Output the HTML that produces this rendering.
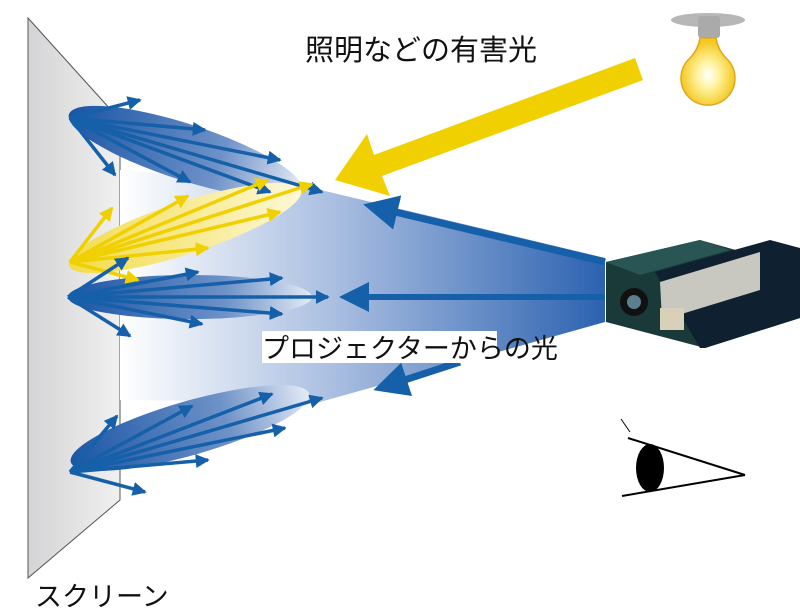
<!DOCTYPE html>
<html><head><meta charset="utf-8"><style>
html,body{margin:0;padding:0;background:#fff;width:800px;height:616px;overflow:hidden}
svg{display:block}
text{font-family:"Liberation Sans","Noto Sans CJK JP",sans-serif;fill:#111}
</style></head><body>
<svg width="800" height="616" viewBox="0 0 800 616" xmlns="http://www.w3.org/2000/svg">
<defs>
<linearGradient id="scr" x1="0" x2="1" y1="0" y2="0"><stop offset="0" stop-color="#d4d4d6"/><stop offset="1" stop-color="#f0f0f0"/></linearGradient>
<linearGradient id="beam" x1="120" x2="605" y1="0" y2="0" gradientUnits="userSpaceOnUse"><stop offset="0" stop-color="#fff"/><stop offset="0.45" stop-color="#a8bde0"/><stop offset="1" stop-color="#2c62b0"/></linearGradient>
<linearGradient id="ellB" x1="0" x2="1"><stop offset="0" stop-color="#1a55a5"/><stop offset="0.65" stop-color="#6f92c8"/><stop offset="1" stop-color="#e4ebf6"/></linearGradient>
<linearGradient id="ellY" x1="0" x2="1"><stop offset="0" stop-color="#f2dc4a"/><stop offset="1" stop-color="#fdf8d8"/></linearGradient>
<radialGradient id="bulb" cx="0.5" cy="0.55" r="0.5"><stop offset="0" stop-color="#fff"/><stop offset="0.4" stop-color="#fff3a0"/><stop offset="1" stop-color="#f3c820"/></radialGradient>
<marker id="ab" markerWidth="4" markerHeight="4" refX="3.5" refY="2" orient="auto" markerUnits="strokeWidth"><path d="M0,0 L4,2 L0,4z" fill="#1560a8"/></marker>
<marker id="ay" markerWidth="4" markerHeight="4" refX="3.5" refY="2" orient="auto" markerUnits="strokeWidth"><path d="M0,0 L4,2 L0,4z" fill="#f0d000"/></marker>
<marker id="abig" markerWidth="5" markerHeight="5" refX="4" refY="2.5" orient="auto" markerUnits="strokeWidth"><path d="M0,0 L5,2.5 L0,5z" fill="#1560a8"/></marker>
</defs>
<polygon points="28,18 120,120 120,500 28,578" fill="url(#scr)" stroke="#555" stroke-width="1"/>
<polygon points="120,170 300,185 605,258 605,322 320,402 120,400" fill="url(#beam)"/>
<line x1="605" y1="262" x2="370" y2="206" stroke="#1560a8" stroke-width="7" marker-end="url(#abig)"/>
<line x1="605" y1="297" x2="345" y2="297" stroke="#1560a8" stroke-width="6" marker-end="url(#abig)"/>
<line x1="460" y1="362" x2="380" y2="388" stroke="#1560a8" stroke-width="7" marker-end="url(#abig)"/>
<ellipse cx="185" cy="152" rx="122" ry="28" transform="rotate(18 185 152)" fill="url(#ellB)"/>
<ellipse cx="185" cy="228" rx="122" ry="26" transform="rotate(-18 185 228)" fill="url(#ellY)"/>
<ellipse cx="190" cy="297" rx="122" ry="22" fill="url(#ellB)"/>
<ellipse cx="190" cy="428" rx="124" ry="27" transform="rotate(-16 190 428)" fill="url(#ellB)"/>
<g stroke="#1560a8" stroke-width="3.5" fill="none">
<line x1="70" y1="118" x2="140" y2="100" marker-end="url(#ab)"/>
<line x1="70" y1="118" x2="115" y2="175" marker-end="url(#ab)"/>
<line x1="70" y1="118" x2="205" y2="130" marker-end="url(#ab)"/>
<line x1="70" y1="118" x2="280" y2="160" marker-end="url(#ab)"/>
<line x1="70" y1="118" x2="190" y2="182" marker-end="url(#ab)"/>
<line x1="70" y1="118" x2="270" y2="192" marker-end="url(#ab)"/>
<line x1="70" y1="118" x2="322" y2="192" marker-end="url(#ab)"/>
</g>
<g stroke="#f0d000" stroke-width="3.5" fill="none">
<line x1="70" y1="262" x2="112" y2="208" marker-end="url(#ay)"/>
<line x1="70" y1="262" x2="188" y2="196" marker-end="url(#ay)"/>
<line x1="70" y1="262" x2="268" y2="180" marker-end="url(#ay)"/>
<line x1="70" y1="262" x2="312" y2="184" marker-end="url(#ay)"/>
<line x1="70" y1="262" x2="280" y2="212" marker-end="url(#ay)"/>
<line x1="70" y1="262" x2="208" y2="248" marker-end="url(#ay)"/>
<line x1="70" y1="262" x2="138" y2="280" marker-end="url(#ay)"/>
</g>
<g stroke="#1560a8" stroke-width="3.5" fill="none">
<line x1="68" y1="297" x2="128" y2="258" marker-end="url(#ab)"/>
<line x1="68" y1="297" x2="198" y2="272" marker-end="url(#ab)"/>
<line x1="68" y1="297" x2="282" y2="278" marker-end="url(#ab)"/>
<line x1="68" y1="297" x2="328" y2="297" marker-end="url(#ab)"/>
<line x1="68" y1="297" x2="282" y2="314" marker-end="url(#ab)"/>
<line x1="68" y1="297" x2="202" y2="324" marker-end="url(#ab)"/>
<line x1="68" y1="297" x2="130" y2="336" marker-end="url(#ab)"/>
<line x1="70" y1="472" x2="117" y2="416" marker-end="url(#ab)"/>
<line x1="70" y1="472" x2="192" y2="406" marker-end="url(#ab)"/>
<line x1="70" y1="472" x2="272" y2="394" marker-end="url(#ab)"/>
<line x1="70" y1="472" x2="322" y2="398" marker-end="url(#ab)"/>
<line x1="70" y1="472" x2="285" y2="428" marker-end="url(#ab)"/>
<line x1="70" y1="472" x2="208" y2="460" marker-end="url(#ab)"/>
<line x1="70" y1="472" x2="145" y2="492" marker-end="url(#ab)"/>
</g>
<polygon points="635,58 643,80 382,176 390,196 335,180 367,134 374,155" fill="#f0d000"/>
<ellipse cx="708" cy="20" rx="37" ry="7" fill="#999" opacity="0.7"/>
<rect x="698" y="16" width="22" height="22" rx="3" fill="#aaa"/>
<path d="M700,38 L716,38 Q718,50 726,58 A27,27 0 1 1 690,58 Q698,50 700,38z" fill="url(#bulb)" stroke="#e0a820" stroke-width="1.5"/>
<polygon points="606,262 700,240 800,268 800,318 705,348 606,322" fill="#1a3a3a"/>
<polygon points="606,262 700,240 730,250 640,275" fill="#2a5555"/>
<polygon points="655,272 770,240 800,248 800,318 705,348 700,348" fill="#0f2030"/>
<polygon points="660,282 760,252 760,290 662,320" fill="#c8c8c0"/>
<circle cx="634" cy="302" r="14" fill="#111"/>
<circle cx="634" cy="302" r="7" fill="#5a8090"/>
<rect x="660" y="308" width="24" height="22" fill="#d8d0b8"/>
<line x1="628" y1="438" x2="745" y2="475" stroke="#000" stroke-width="2"/>
<line x1="622" y1="496" x2="745" y2="475" stroke="#000" stroke-width="2"/>
<line x1="621" y1="419" x2="630" y2="432" stroke="#000" stroke-width="1"/>
<ellipse cx="650" cy="468" rx="14" ry="24" fill="#000"/>
<text x="305" y="60" font-size="29">照明などの有害光</text>
<rect x="262" y="331" width="235" height="32" fill="#fff"/>
<text x="262" y="358" font-size="27">プロジェクターからの光</text>
<text x="35" y="606" font-size="27">スクリーン</text>
</svg>
</body></html>
